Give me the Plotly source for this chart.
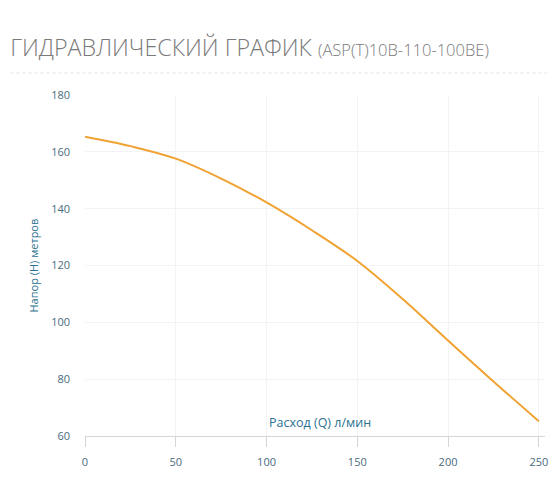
"""Hydraulic performance curve for ASP(T)10B-110-100BE pump"""

import plotly.graph_objects as go

# flow rate, l/min
flow = [0, 25, 50, 75, 100, 125, 150, 175, 200, 225, 250]
# head, metres
head = [165.3, 162.0, 157.6, 150.6, 142.2, 132.4, 121.6, 108.2, 93.6, 79.2, 65.2]

x_ticks = [0, 50, 100, 150, 200, 250]
y_ticks = [60, 80, 100, 120, 140, 160, 180]

title_main = "ГИДРАВЛИЧЕСКИЙ ГРАФИК"
title_model = "(ASP(T)10B-110-100BE)"
x_title = "Расход (Q) л/мин"
y_title = "Напор (H) метров"

FONT = "Open Sans, Noto Sans, sans-serif"
TICK_COLOR = "#4a6b7e"
TITLE_COLOR = "#2b7190"
LINE_COLOR = "#f0a232"
GRID_COLOR = "#f3f3f3"

fig = go.Figure()
fig.add_trace(go.Scatter(
    x=flow, y=head, mode="lines",
    line=dict(color=LINE_COLOR, width=2, shape="spline", smoothing=1),
    hoverinfo="x+y", showlegend=False,
))

# the page body has an 8px margin, so the figure is 8px smaller than the window
fig.update_layout(
    width=552, height=496,
    margin=dict(l=77, r=12, t=87, b=68),
    paper_bgcolor="white", plot_bgcolor="white",
    font=dict(family=FONT, color=TICK_COLOR, size=11),
    title=dict(
        text=f"{title_main} <span style='font-size:16.5px'>{title_model}</span>",
        xref="container", x=0.004, xanchor="left",
        yref="container", y=0.919, yanchor="middle",
        font=dict(family=FONT, size=23.3, color="#7a7a7a", weight=300),
    ),
    xaxis=dict(
        range=[0, 253.4], tickvals=x_ticks, showgrid=True, gridcolor=GRID_COLOR,
        zeroline=False, showline=True, linecolor="#d6d6d6", linewidth=1,
        ticks="outside", ticklen=10, tickcolor="#d6d6d6", ticklabelstandoff=6,
        tickfont=dict(size=11, color=TICK_COLOR),
    ),
    yaxis=dict(
        range=[60, 180], tickvals=y_ticks, showgrid=True, gridcolor=GRID_COLOR,
        zeroline=False, showline=False, ticks="", ticklabelstandoff=14,
        tickfont=dict(size=11, color=TICK_COLOR),
    ),
    shapes=[dict(
        type="line", xref="paper", yref="paper",
        x0=-0.162, x1=1.004, y0=1.0645, y1=1.0645,
        line=dict(color="#e0e0e0", width=1, dash="dot"),
    )],
    annotations=[
        dict(text=x_title, xref="paper", yref="paper", x=0.51, y=0,
             xanchor="center", yanchor="bottom", yshift=3, showarrow=False,
             font=dict(size=12.5, color=TITLE_COLOR)),
        dict(text=y_title, xref="paper", yref="paper", x=0, y=0.5,
             xanchor="center", yanchor="middle", xshift=-52, textangle=-90,
             showarrow=False, font=dict(size=11, color=TITLE_COLOR)),
    ],
)

fig.write_html("out.html")
